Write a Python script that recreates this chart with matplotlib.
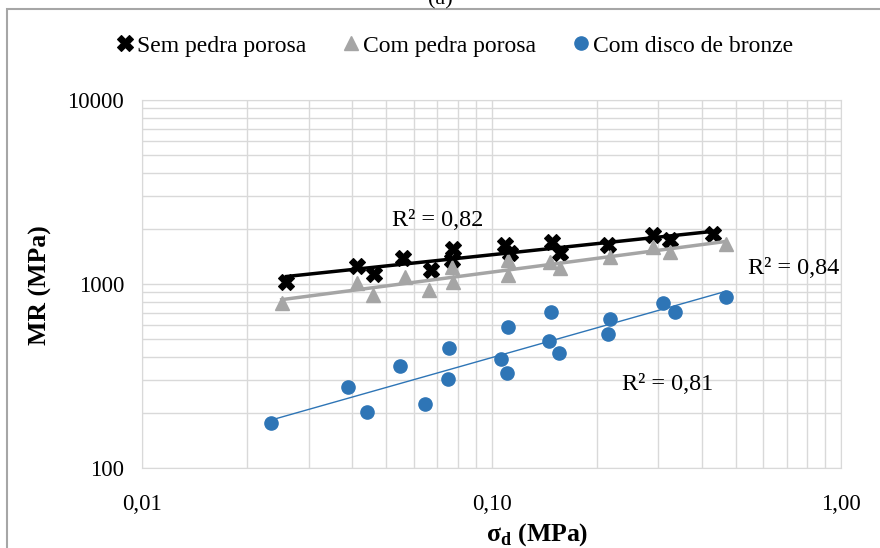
import numpy as np
import matplotlib
matplotlib.use('Agg')
from matplotlib import pyplot as plt
from matplotlib.patches import Rectangle

plt.rcParams['font.family'] = ['Liberation Serif', 'DejaVu Serif']
plt.rcParams['mathtext.fontset'] = 'custom'
plt.rcParams['mathtext.rm'] = 'Liberation Serif'
plt.rcParams['mathtext.bf'] = 'Liberation Serif:bold'

# Sem pedra porosa
sem_x = [0.0259, 0.0413, 0.0462, 0.0559, 0.0670, 0.0774, 0.0770, 0.1093, 0.1130,
         0.1487, 0.1570, 0.2160, 0.2900, 0.3240, 0.4310]
sem_y = [1029, 1258, 1129, 1390, 1191, 1549, 1350, 1629, 1474,
         1698, 1468, 1629, 1847, 1734, 1870]

# Com pedra porosa
com_x = [0.0251, 0.0412, 0.0459, 0.0566, 0.0664, 0.0769, 0.0774, 0.1117, 0.1117,
         0.1470, 0.1570, 0.2180, 0.2900, 0.3240, 0.4690]
com_y = [785, 1008, 872, 1096, 927, 1242, 1029, 1350, 1119,
         1322, 1217, 1407, 1595, 1498, 1650]

# Com disco de bronze
bro_x = [0.0234, 0.0389, 0.0440, 0.0547, 0.0645, 0.0756, 0.0753, 0.1063, 0.1104,
         0.1117, 0.1480, 0.1460, 0.1560, 0.2180, 0.2160, 0.3090, 0.3350, 0.4680]
bro_y = [176, 275, 202, 360, 224, 451, 303, 391, 327,
         586, 707, 490, 423, 643, 533, 785, 707, 853]

labels = ['Sem pedra porosa', 'Com pedra porosa', 'Com disco de bronze']
r2_txt = ['R² = 0,82', 'R² = 0,84', 'R² = 0,81']

x_ticks = [0.01, 0.1, 1.0]
x_tick_lbl = ['0,01', '0,10', '1,00']
y_ticks = [100, 1000, 10000]
y_tick_lbl = ['100', '1000', '10000']

blue = '#2e75b6'
grey = '#a5a5a5'

fig = plt.figure(figsize=(8.8, 5.48), dpi=100)
ax = fig.add_axes([142/880, 1-468/548, (841-142)/880, (468-100)/548])

# outer chart frame (cropped on right / bottom)
fig.patches.append(Rectangle((7/880, -0.1), 1.2, 1.1-9/548, transform=fig.transFigure,
                             fill=False, edgecolor='#a6a6a6', linewidth=1.5))
fig.text(0.5, 1.0, '(a)', ha='center', va='center', fontsize=16)

ax.plot(sem_x, sem_y, 'X', color='black', ms=12, mew=0.8, linestyle='none', label=labels[0], zorder=3)
ax.plot(com_x, com_y, '^', color=grey, ms=10, linestyle='none', label=labels[1], zorder=4)
ax.plot(bro_x, bro_y, 'o', color=blue, ms=9.5, linestyle='none', label=labels[2], zorder=5)

# power trendlines
for xs, ys, c, lw in [(sem_x, sem_y, 'black', 2.5), (com_x, com_y, grey, 2.5), (bro_x, bro_y, blue, 1.0)]:
    b, a = np.polyfit(np.log10(xs), np.log10(ys), 1)
    xx = np.array([min(xs), max(xs)])
    ax.plot(xx, 10**(a + b*np.log10(xx)), color=c, lw=lw, zorder=6)

ax.set_xscale('log')
ax.set_yscale('log')
ax.set_xlim(0.01, 1.0)
ax.set_ylim(100, 10000)
ax.set_xticks(x_ticks, x_tick_lbl)
ax.set_yticks(y_ticks, y_tick_lbl)
ax.tick_params(which='both', length=0, labelsize=16.5)
ax.tick_params(axis='x', pad=19)
ax.tick_params(axis='y', pad=13)
ax.grid(which='both', color='#d9d9d9', linewidth=1.0)
ax.set_axisbelow(True)
for s in ax.spines.values():
    s.set_color('#d9d9d9')

ax.text(0.0702, 2206, r2_txt[0], fontsize=17.5, ha='center', va='center')
ax.text(0.730, 1208, r2_txt[1], fontsize=17.5, ha='center', va='center')
ax.text(0.320, 286, r2_txt[2], fontsize=17.5, ha='center', va='center')

fig.text(40/880, 1-285/548, 'MR (MPa)', rotation=90, ha='center', va='center',
         fontsize=18.5, fontweight='bold')
fig.text(537/880, 1-535/548, r'σ$_\mathbf{d}$ (MPa)', ha='center', va='center',
         fontsize=18.5, fontweight='bold')

fig.legend(loc='center', bbox_to_anchor=(453/880, 1-46/548), ncol=3, frameon=False,
           fontsize=17, handletextpad=0.0, columnspacing=1.4, handlelength=1.0)

plt.savefig('out.png', dpi=100)
